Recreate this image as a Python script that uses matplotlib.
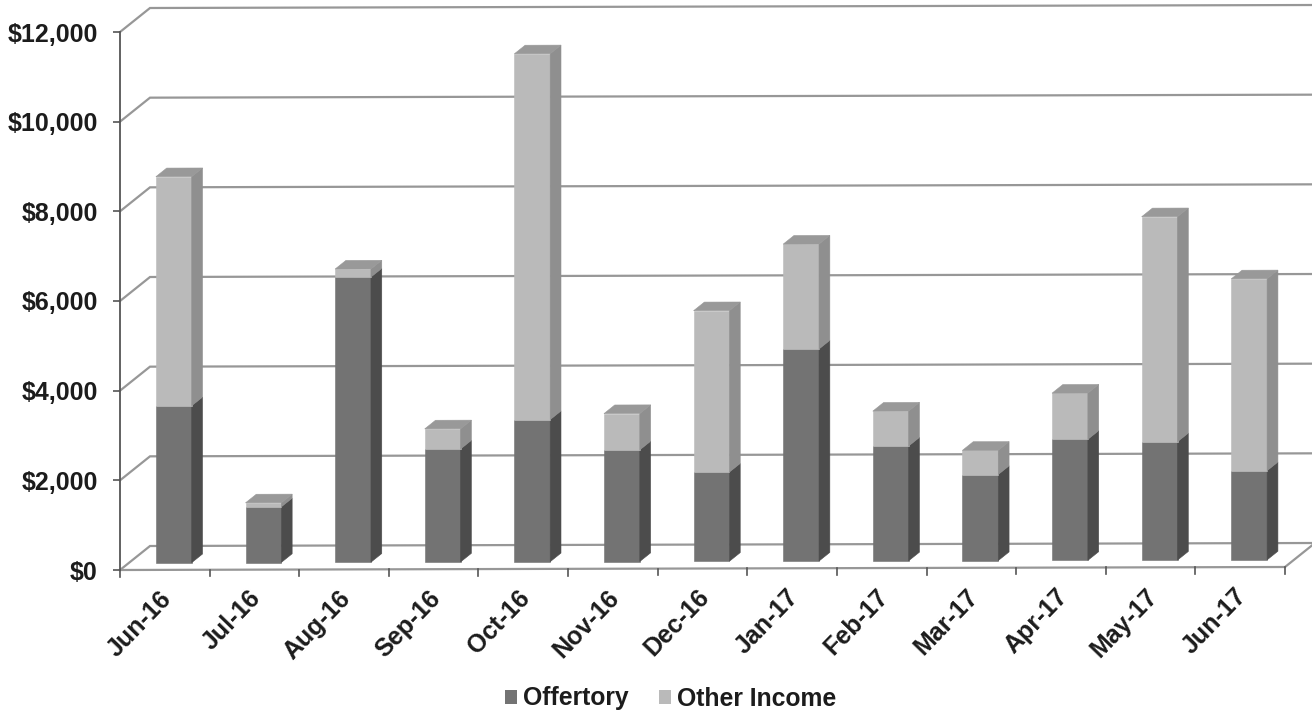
import matplotlib
matplotlib.use("Agg")
import matplotlib.pyplot as plt
from matplotlib.patches import Polygon, Patch
from matplotlib.transforms import ScaledTranslation

months = ["Jun-16", "Jul-16", "Aug-16", "Sep-16", "Oct-16", "Nov-16", "Dec-16",
          "Jan-17", "Feb-17", "Mar-17", "Apr-17", "May-17", "Jun-17"]
offertory = [3500, 1240, 6360, 2520, 3170, 2490, 1990, 4730, 2560, 1920, 2700, 2640, 1990]
other_income = [5110, 90, 180, 450, 8160, 810, 3600, 2340, 780, 540, 1030, 5020, 4280]
y_ticks = [0, 2000, 4000, 6000, 8000, 10000, 12000]
y_labels = ["$0", "$2,000", "$4,000", "$6,000", "$8,000", "$10,000", "$12,000"]

W, H = 1312, 715
L, R, B, T = 120, 1285, 570, 32
fig = plt.figure(figsize=(W / 100, H / 100), dpi=100, facecolor="white")
ax = fig.add_axes([L / W, 1 - B / H, (R - L) / W, (B - T) / H])
ax.set_xlim(0, 13)
ax.set_ylim(0, 12000)
plt.rcParams["font.family"] = ["Liberation Sans", "DejaVu Sans"]

PX_X = (R - L) / 13
PX_Y = (B - T) / 12000
TILT = (3 / 13) / PX_Y   # the scan rises to the right: dollars per category


def P(x, v, depth=0.0):
    """Oblique projection: depth 0 is the front of the floor, 1 the back wall."""
    return (x + depth * 30 / PX_X, v + x * TILT + depth * 24 / PX_Y)


GRID = "#979797"
for v in y_ticks:
    xs, ys = zip(P(0, v), P(0, v, 1), P(13.2, v, 1))
    ax.plot(xs, ys, color=GRID, lw=1.6, clip_on=False, zorder=1, solid_joinstyle="miter")
xs, ys = zip(P(0, 0), P(13, 0), P(13, 0, 1))
ax.plot(xs, ys, color=GRID, lw=1.6, clip_on=False, zorder=1.5)
for i in range(0, 14):
    xs, ys = zip(P(i, 0), P(i, -150))
    ax.plot(xs, ys, color="#555555", lw=1.2, clip_on=False, zorder=1.5)

WIDTH = 0.40
D0, D1 = 0.30, 0.66
C_OFF, C_OFF_SIDE = "#737373", "#4c4c4c"
C_OTH, C_OTH_SIDE, C_TOP = "#bababa", "#8f8f8f", "#999999"


def box(i, lo, hi, front, side, z, top=False):
    xc = i + 0.5
    x0, x1 = xc - WIDTH / 2, xc + WIDTH / 2
    fx, fy = P(x0, lo, D0)
    ax.bar(fx, hi - lo, width=WIDTH, bottom=fy, align="edge", color=front,
           edgecolor=front, lw=0.4, clip_on=False, zorder=z)
    ax.add_patch(Polygon([P(x1, lo, D0), P(x1, lo, D1), P(x1, hi, D1), P(x1, hi, D0)],
                         closed=True, fc=side, ec=side, lw=0.4, clip_on=False, zorder=z))
    if top:
        ax.add_patch(Polygon([P(x0, hi, D0), P(x1, hi, D0), P(x1, hi, D1), P(x0, hi, D1)],
                             closed=True, fc=C_TOP, ec=C_TOP, lw=0.4, clip_on=False, zorder=z))


for i, (a, b) in enumerate(zip(offertory, other_income)):
    z = 3 + i * 0.01
    box(i, 0, a, C_OFF, C_OFF_SIDE, z)
    box(i, a, a + b, C_OTH, C_OTH_SIDE, z, top=True)

for s in ("top", "right", "bottom"):
    ax.spines[s].set_visible(False)
ax.spines["left"].set_color("#555555")
ax.spines["left"].set_linewidth(1.3)
ax.spines["left"].set_zorder(2)

ax.set_yticks(y_ticks)
ax.set_yticklabels(y_labels, fontsize=18, fontweight="bold", color="#1c1c1c",
                   family=["Liberation Sans", "DejaVu Sans"])
ax.tick_params(axis="y", length=5, width=1.2, color="#555555", pad=11)

ax.set_xticks([i + 0.5 for i in range(13)])
ax.set_xticklabels(months, fontsize=18, fontweight="bold", color="#1c1c1c",
                   rotation=46, ha="right", rotation_mode="anchor",
                   family=["Liberation Sans", "DejaVu Sans"])
ax.tick_params(axis="x", length=0, pad=10)
for i, tick in enumerate(ax.xaxis.get_major_ticks()):
    tick.set_pad(12 - (i + 0.5) * 3 / 13 * 0.72)
    tick.label1.set_transform(tick.label1.get_transform()
                              + ScaledTranslation(-6 / 100, 0, fig.dpi_scale_trans))

handles = [Patch(fc=C_OFF, ec=C_OFF, lw=0), Patch(fc=C_OTH, ec=C_OTH, lw=0)]
fig.legend(handles, ["Offertory", "Other Income"], loc="center",
           bbox_to_anchor=(670.5 / W, 1 - 698.5 / H), ncol=2, frameon=False,
           handlelength=0.5, handleheight=0.5, handletextpad=0.25, columnspacing=1.2,
           borderpad=0, borderaxespad=0,
           prop={"family": ["Liberation Sans", "DejaVu Sans"], "weight": "bold", "size": 17.8},
           labelcolor="#1c1c1c")

fig.savefig("out.png", dpi=100, facecolor="white")
